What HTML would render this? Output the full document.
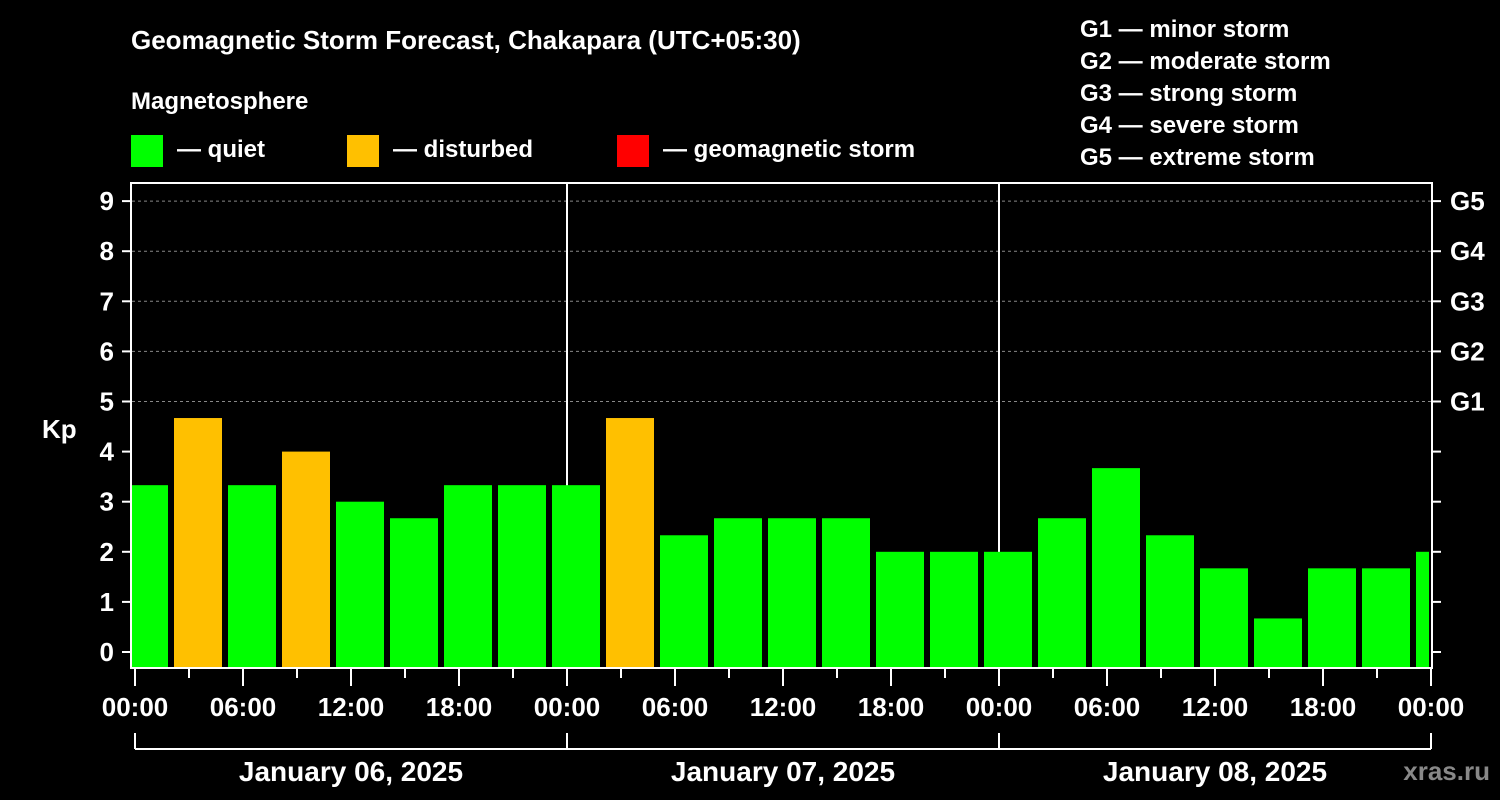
<!DOCTYPE html>
<html><head><meta charset="utf-8">
<style>
html,body{margin:0;padding:0;background:#000;}
svg{display:block;font-family:"Liberation Sans",Arial,sans-serif;font-weight:bold;}
</style></head><body>
<svg id="c" width="1500" height="800" viewBox="0 0 1500 800">
<defs><clipPath id="pc"><rect x="132" y="183" width="1297" height="485"/></clipPath></defs>
<text x="131" y="49" fill="#fff" font-size="26">Geomagnetic Storm Forecast, Chakapara (UTC+05:30)</text>
<text x="131" y="109" fill="#fff" font-size="24">Magnetosphere</text>
<g><rect x="131" y="135" width="32" height="32" fill="#00ff00"/><text x="177" y="157" fill="#fff" font-size="24">— quiet</text></g>
<g><rect x="347" y="135" width="32" height="32" fill="#ffc000"/><text x="393" y="157" fill="#fff" font-size="24">— disturbed</text></g>
<g><rect x="617" y="135" width="32" height="32" fill="#ff0000"/><text x="663" y="157" fill="#fff" font-size="24">— geomagnetic storm</text></g>
<g fill="#fff" font-size="24">
<text x="1080" y="37">G1 — minor storm</text>
<text x="1080" y="69">G2 — moderate storm</text>
<text x="1080" y="101">G3 — strong storm</text>
<text x="1080" y="133">G4 — severe storm</text>
<text x="1080" y="165">G5 — extreme storm</text>
</g>
<text x="42" y="438" fill="#fff" font-size="26">Kp</text>
<text x="1490" y="780" fill="#888" font-size="26" text-anchor="end">xras.ru</text>
<g id="grid"></g><g id="bars" clip-path="url(#pc)"></g><g id="axes"></g>
</svg>
<script>
const kpValues=[3.33,4.67,3.33,4.0,3.0,2.67,3.33,3.33,3.33,4.67,2.33,2.67,2.67,2.67,2.0,2.0,2.0,2.67,3.67,2.33,1.67,0.67,1.67,1.67,2.0];
const yTicks=[0,1,2,3,4,5,6,7,8,9];
const gLabels=["G1","G2","G3","G4","G5"];
const xTickLabels=["00:00","06:00","12:00","18:00","00:00","06:00","12:00","18:00","00:00","06:00","12:00","18:00","00:00"];
const dayLabels=["January 06, 2025","January 07, 2025","January 08, 2025"];
const NS="http://www.w3.org/2000/svg";
const X0=135,PXH=18,Y0=652,PXK=50.1;
const xs=h=>X0+h*PXH, ys=k=>Y0-k*PXK;
function mk(t,a,p){const e=document.createElementNS(NS,t);for(const k in a)e.setAttribute(k,a[k]);if(p)p.appendChild(e);return e;}
const grid=document.getElementById('grid'),bars=document.getElementById('bars'),axes=document.getElementById('axes');
for(let k=5;k<=9;k++){const l=mk('line',{x1:132,x2:1432,y1:ys(k),y2:ys(k),stroke:'#888','stroke-dasharray':'3,3','stroke-width':1},grid);

}
[24,48].forEach(h=>{const l=mk('line',{x1:xs(h),x2:xs(h),y1:183,y2:668,stroke:'#fff','stroke-width':2},grid);

});
kpValues.forEach((v,i)=>{const c=xs(0.5+3*i);const r=mk('rect',{x:c-24,y:ys(v),width:48,height:668-ys(v),fill:v>=5?'#ff0000':(v>=4?'#ffc000':'#00ff00')},bars);

});
mk('rect',{x:131,y:183,width:1301,height:485,fill:'none',stroke:'#fff','stroke-width':2},axes);
yTicks.forEach(k=>{mk('line',{x1:122,x2:131,y1:ys(k),y2:ys(k),stroke:'#fff','stroke-width':2},axes);
mk('line',{x1:1432,x2:1441,y1:ys(k),y2:ys(k),stroke:'#fff','stroke-width':2},axes);
const t=mk('text',{x:114,y:ys(k)+9,fill:'#fff','font-size':26,'text-anchor':'end'},axes);t.textContent=k;

});
gLabels.forEach((g,i)=>{const t=mk('text',{x:1450,y:ys(5+i)+9,fill:'#fff','font-size':26},axes);t.textContent=g;

});
for(let h=0;h<=72;h+=3){const major=h%6===0;mk('line',{x1:xs(h),x2:xs(h),y1:669,y2:major?686:678,stroke:'#fff','stroke-width':2},axes);}
xTickLabels.forEach((s,i)=>{const t=mk('text',{x:xs(6*i),y:716,fill:'#fff','font-size':26,'text-anchor':'middle'},axes);t.textContent=s;

});
mk('line',{x1:xs(0),x2:xs(72),y1:749,y2:749,stroke:'#fff','stroke-width':2},axes);
for(let d=0;d<=3;d++)mk('line',{x1:xs(24*d),x2:xs(24*d),y1:733,y2:749,stroke:'#fff','stroke-width':2},axes);
dayLabels.forEach((s,i)=>{const t=mk('text',{x:xs(24*i+12),y:781,fill:'#fff','font-size':28,'text-anchor':'middle'},axes);t.textContent=s;

});
</script>
</body></html>
